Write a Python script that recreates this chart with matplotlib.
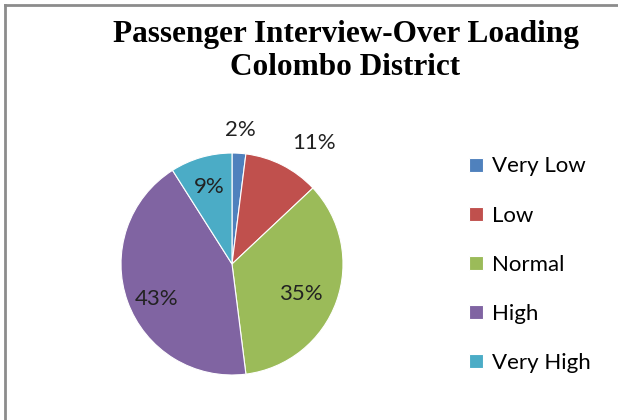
import math
import matplotlib
matplotlib.use("Agg")
import matplotlib.pyplot as plt
from matplotlib.lines import Line2D

# Data
labels = ["Very Low", "Low", "Normal", "High", "Very High"]
shares = [2, 11, 35, 43, 9]
colors = ["#4F81BD", "#C0504D", "#9BBB59", "#8064A2", "#4BACC6"]
# label placement: radial distance (fraction of radius) and angle nudge (deg)
label_dist = [1.21, 1.32, 0.68, 0.75, 0.72]
label_nudge = [0, -7, -4, 5, 0]

fig = plt.figure(figsize=(6.18, 4.2), dpi=100)

# gray frame (top and left edges visible)
fig.add_artist(Line2D([0.0081, 1.0], [0.988, 0.988], color="#8c8c8c", lw=2))
fig.add_artist(Line2D([0.0081, 0.0081], [0.0, 0.988], color="#8c8c8c", lw=2))

fig.text(0.559, 0.878, "Passenger Interview-Over Loading\nColombo District",
         ha="center", va="center", fontsize=22.5, fontweight="bold",
         family="Liberation Serif", linespacing=1.2)

ax = fig.add_axes([0.1958, 0.1071, 0.3592, 0.5286])
wedges, _ = ax.pie(shares, colors=colors, startangle=90, counterclock=False,
                   wedgeprops=dict(edgecolor="white", linewidth=0.8))
ax.set_xlim(-1, 1)
ax.set_ylim(-1, 1)
ax.set_aspect("equal")

for w, s, d, n in zip(wedges, shares, label_dist, label_nudge):
    ang = math.radians((w.theta1 + w.theta2) / 2 + n)
    ax.text(d * math.cos(ang), d * math.sin(ang), f"{s}%", ha="center",
            va="center", fontsize=16, family="Lato", color="#222222")

fig.legend(wedges, labels, loc="upper left", bbox_to_anchor=(0.727, 0.675),
           frameon=False, prop=dict(family="Lato", size=16),
           handlelength=0.6, handleheight=0.6, handletextpad=0.4,
           labelspacing=1.31)

fig.savefig("out.png", dpi=100)
